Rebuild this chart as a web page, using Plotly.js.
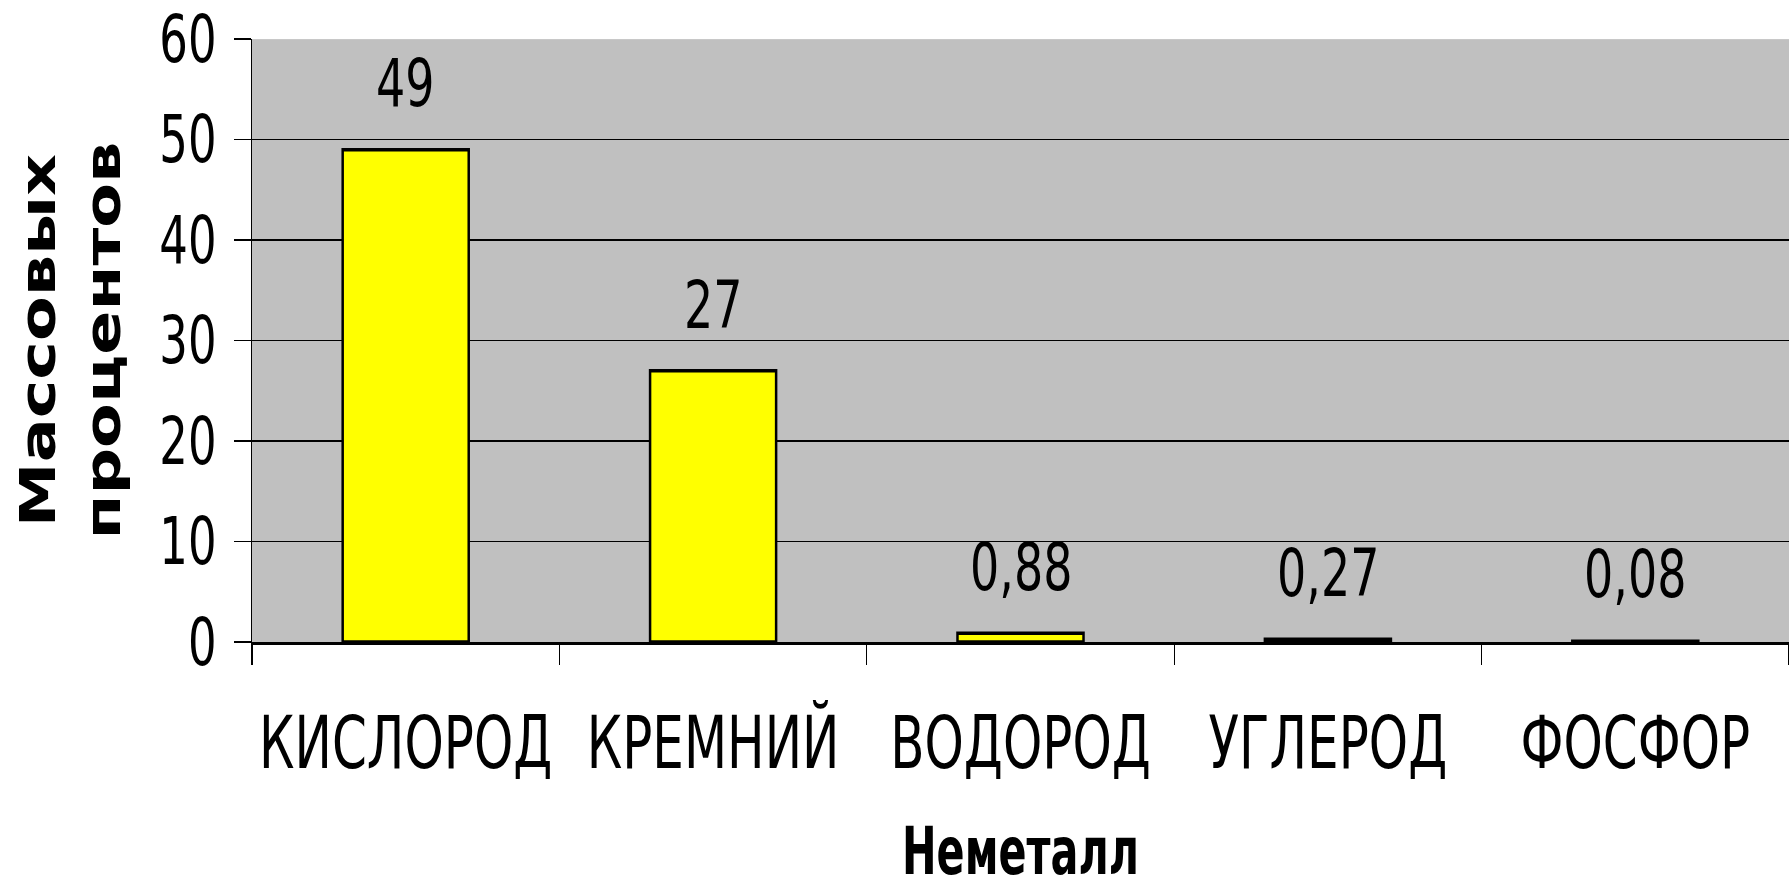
<!DOCTYPE html>
<html>
<head>
<meta charset="utf-8">
<script src="https://cdn.plot.ly/plotly-3.0.1.min.js"></script>
<style>
  html, body { margin: 0; padding: 0; background: #ffffff; }
  #wrap { width: 1789px; height: 890px; overflow: hidden; }
  #chart { width: 1789px; height: 614px; transform: scaleY(1.4495); transform-origin: 0 0; }
</style>
</head>
<body>
<div id="wrap"><div id="chart"></div></div>
<script>
// Data
const categories = ["КИСЛОРОД", "КРЕМНИЙ", "ВОДОРОД", "УГЛЕРОД", "ФОСФОР"];
const values = [49, 27, 0.88, 0.27, 0.08];
const valueLabels = ["49", "27", "0,88", "0,27", "0,08"];
const yTickValues = [0, 10, 20, 30, 40, 50, 60];
const xTitle = "Неметалл";
const yTitle = "Массовых<br>процентов";

const trace = {
  type: "bar",
  x: categories,
  y: values,
  width: 0.41,
  marker: { color: "#FFFF00", line: { color: "#000000", width: 2.5 } },
  hoverinfo: "x+y"
};

const annotations = categories.map((c, i) => ({
  x: c,
  y: values[i],
  xref: "x",
  yref: "y",
  text: valueLabels[i],
  showarrow: false,
  yanchor: "bottom",
  yshift: 17,
  font: { family: "DejaVu Sans", size: 46, color: "#000000" }
}));

const layout = {
  width: 1789,
  height: 614,
  margin: { l: 252, r: 0, t: 27, b: 171, pad: 0 },
  paper_bgcolor: "#ffffff",
  plot_bgcolor: "#C0C0C0",
  showlegend: false,
  bargap: 0.59,
  xaxis: {
    type: "category",
    range: [-0.5, 4.5],
    tickson: "boundaries",
    ticks: "outside",
    ticklen: 14,
    tickwidth: 1.2,
    tickcolor: "#000000",
    tickangle: 0,
    showline: true,
    linecolor: "#000000",
    linewidth: 2,
    showgrid: false,
    zeroline: false,
    ticklabelstandoff: 25,
    tickfont: { family: "DejaVu Sans", size: 50, color: "#000000" },
    title: {
      text: xTitle,
      standoff: 34,
      font: { family: "DejaVu Sans Condensed", weight: "bold", size: 46, color: "#000000" }
    },
    fixedrange: true
  },
  yaxis: {
    range: [0, 60],
    tickmode: "array",
    tickvals: yTickValues,
    ticktext: yTickValues.map(String),
    ticks: "outside",
    ticklen: 17,
    tickwidth: 1,
    tickcolor: "#000000",
    showline: true,
    linecolor: "#000000",
    linewidth: 1.5,
    showgrid: true,
    gridcolor: "#000000",
    gridwidth: 1.1,
    zeroline: false,
    ticklabelstandoff: 8,
    tickfont: { family: "DejaVu Sans", size: 45, color: "#000000" },
    title: {
      text: yTitle,
      standoff: 22,
      font: { family: "DejaVu Sans Condensed", weight: "bold", size: 50, color: "#000000" }
    },
    fixedrange: true
  },
  annotations: annotations
};

Plotly.newPlot("chart", [trace], layout, { displayModeBar: false, staticPlot: true });
</script>
</body>
</html>
